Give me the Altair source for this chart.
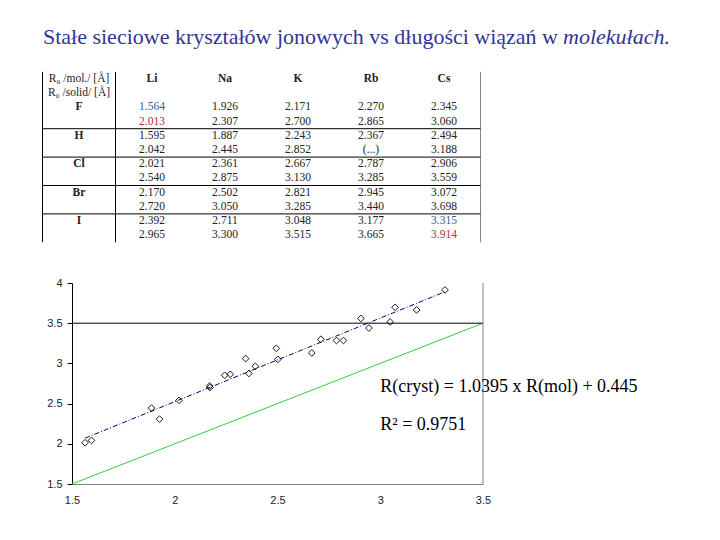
import altair as alt
import pandas as pd

# ---------------- data ----------------
cations = ["Li", "Na", "K", "Rb", "Cs"]
anions = ["F", "H", "Cl", "Br", "I"]

mol_F = [1.564, 1.926, 2.171, 2.270, 2.345]
solid_F = [2.013, 2.307, 2.700, 2.865, 3.060]
mol_H = [1.595, 1.887, 2.243, 2.367, 2.494]
solid_H = [2.042, 2.445, 2.852, None, 3.188]
mol_Cl = [2.021, 2.361, 2.667, 2.787, 2.906]
solid_Cl = [2.540, 2.875, 3.130, 3.285, 3.559]
mol_Br = [2.170, 2.502, 2.821, 2.945, 3.072]
solid_Br = [2.720, 3.050, 3.285, 3.440, 3.698]
mol_I = [2.392, 2.711, 3.048, 3.177, 3.315]
solid_I = [2.965, 3.300, 3.515, 3.665, 3.914]

header_mol = "R₀ /mol./ [Å]"
header_solid = "R₀ /solid/ [Å]"
title_main = "Stałe sieciowe kryształów jonowych vs długości wiązań w"
title_italic = "molekułach."
fit_label = "R(cryst) = 1.0395 x R(mol) + 0.445"
r2_label = "R² = 0.9751"
ann_x = [3.0, 3.0]
ann_y = [2.71, 2.23]

x_ticks = [1.5, 2, 2.5, 3, 3.5]
y_ticks = [1.5, 2, 2.5, 3, 3.5, 4]
ref_line = [1.5, 3.5]

mols = {"F": mol_F, "H": mol_H, "Cl": mol_Cl, "Br": mol_Br, "I": mol_I}
solids = {"F": solid_F, "H": solid_H, "Cl": solid_Cl, "Br": solid_Br, "I": solid_I}
highlight = {("F", "Li"), ("I", "Cs")}

# ---------------- scatter ----------------
pts = []
for an in anions:
    for ci, cat in enumerate(cations):
        if solids[an][ci] is not None:
            pts.append({"mol": mols[an][ci], "solid": solids[an][ci]})
pts_df = pd.DataFrame(pts)

xs = alt.Scale(domain=[1.5, 3.5], nice=False, zero=False)
ys = alt.Scale(domain=[1.5, 4], nice=False, zero=False)
xaxis = alt.Axis(values=x_ticks, format="~g", grid=False, ticks=False,
                 domainColor="#808080", labelFont="Liberation Sans",
                 labelFontSize=11, labelColor="#222222", labelPadding=10,
                 labelFlush=False, title=None)
yaxis = alt.Axis(values=y_ticks, format="~g", grid=False, ticks=True,
                 tickSize=5, tickColor="black", domainColor="black",
                 labelFont="Liberation Sans", labelFontSize=11,
                 labelColor="#222222", labelPadding=5, labelFlush=False,
                 title=None)

green = alt.Chart(pd.DataFrame({"v": ref_line})).mark_line(
    color="#33cc33", strokeWidth=1).encode(
    x=alt.X("v:Q", scale=xs, axis=xaxis), y=alt.Y("v:Q", scale=ys, axis=yaxis))

reg = alt.Chart(pts_df).transform_regression("mol", "solid").mark_line(
    color="#000080", strokeWidth=1, strokeDash=[5, 2, 1, 2]).encode(
    x=alt.X("mol:Q", scale=xs, axis=xaxis), y=alt.Y("solid:Q", scale=ys, axis=yaxis))

points = alt.Chart(pts_df).mark_point(
    shape="diamond", filled=False, color="black", size=45, strokeWidth=0.9,
    opacity=1).encode(
    x=alt.X("mol:Q", scale=xs, axis=xaxis), y=alt.Y("solid:Q", scale=ys, axis=yaxis))

hrule = alt.Chart(pd.DataFrame({"a": [0]})).mark_rule(
    color="black", strokeWidth=1).encode(
    y=alt.Y(datum=3.5, scale=ys, axis=yaxis))

vrule = alt.Chart(pd.DataFrame({"a": [0]})).mark_rule(
    color="#808080", strokeWidth=1).encode(
    x=alt.X(datum=3.5, scale=xs, axis=xaxis))

ann = alt.Chart(pd.DataFrame({"ax": ann_x, "ay": ann_y,
                              "t": [fit_label, r2_label]})).mark_text(
    align="left", baseline="middle", font="Liberation Serif", fontSize=18,
    color="black").encode(
    x=alt.X("ax:Q", scale=xs, axis=xaxis), y=alt.Y("ay:Q", scale=ys, axis=yaxis),
    text="t:N")

scatter = alt.layer(green, reg, points, hrule, vrule, ann)

# ---------------- table ----------------
cells = []
cells.append({"c": -1, "r": 0, "t": header_mol, "col": "#222222", "b": 0})
cells.append({"c": -1, "r": 1, "t": header_solid, "col": "#222222", "b": 0})
for ci, cat in enumerate(cations):
    cells.append({"c": ci, "r": 0, "t": cat, "col": "#222222", "b": 1})
for g, an in enumerate(anions):
    cells.append({"c": -1, "r": 2 + 2 * g, "t": an, "col": "#222222", "b": 1})
    for ci, cat in enumerate(cations):
        m = mols[an][ci]
        s = solids[an][ci]
        hl = (an, cat) in highlight
        cells.append({"c": ci, "r": 2 + 2 * g, "t": f"{m:.3f}",
                      "col": "#3a5a9a" if hl else "#222222", "b": 0})
        cells.append({"c": ci, "r": 3 + 2 * g,
                      "t": f"{s:.3f}" if s is not None else "(...)",
                      "col": "#b03030" if hl else "#222222", "b": 0})
cells_df = pd.DataFrame(cells)

n_rows = 2 + 2 * len(anions)
tx = alt.Scale(domain=[0, len(cations) - 1], range=[80, 372], nice=False, zero=False)
ty = alt.Scale(domain=[0, n_rows - 1], range=[-204, -47.8], nice=False, zero=False)

txt_norm = alt.Chart(cells_df).transform_filter("datum.b == 0").mark_text(
    align="center", baseline="middle", font="Liberation Serif", fontSize=11.5).encode(
    x=alt.X("c:Q", scale=tx, axis=None), y=alt.Y("r:Q", scale=ty, axis=None),
    text="t:N", color=alt.Color("col:N", scale=None))

txt_bold = alt.Chart(cells_df).transform_filter("datum.b == 1").mark_text(
    align="center", baseline="middle", font="Liberation Serif", fontSize=11.5,
    fontWeight="bold").encode(
    x=alt.X("c:Q", scale=tx, axis=None), y=alt.Y("r:Q", scale=ty, axis=None),
    text="t:N", color=alt.Color("col:N", scale=None))

left_edge = -1.5
sep = -0.5
right_edge = len(cations) - 0.5
top_edge = -0.5
bottom_edge = n_rows - 0.5

vl_df = pd.DataFrame({"c": [left_edge, sep, right_edge],
                      "y0": [top_edge] * 3, "y1": [bottom_edge] * 3,
                      "col": ["black", "black", "#888888"]})
vlines = alt.Chart(vl_df).mark_rule(strokeWidth=1).encode(
    x=alt.X("c:Q", scale=tx, axis=None),
    y=alt.Y("y0:Q", scale=ty, axis=None), y2="y1:Q",
    color=alt.Color("col:N", scale=None))

hl_df = pd.DataFrame({"r": [2 * g + 1.5 for g in range(1, len(anions))],
                      "x0": left_edge, "x1": right_edge})
hlines = alt.Chart(hl_df).mark_rule(strokeWidth=1, color="black").encode(
    x=alt.X("x0:Q", scale=tx, axis=None), x2="x1:Q",
    y=alt.Y("r:Q", scale=ty, axis=None))

table = alt.layer(vlines, hlines, txt_norm, txt_bold)

# ---------------- title ----------------
t1 = alt.Chart(pd.DataFrame({"t": [title_main]})).mark_text(
    align="right", baseline="middle", font="Liberation Serif", fontSize=22,
    color="#333399").encode(x=alt.value(486), y=alt.value(-246), text="t:N")
t2 = alt.Chart(pd.DataFrame({"t": [title_italic]})).mark_text(
    align="left", baseline="middle", font="Liberation Serif", fontSize=22,
    fontStyle="italic", color="#333399").encode(
    x=alt.value(491), y=alt.value(-246), text="t:N")
title = alt.layer(t1, t2)

chart = alt.layer(scatter, table, title).resolve_scale(
    x="independent", y="independent").properties(
    width=411, height=201,
    autosize=alt.AutoSizeParams(type="none"),
    padding={"left": 64, "top": 275, "right": 200, "bottom": 40},
).configure_view(stroke=None)

chart.save("out.html", embed_options={"renderer": "svg", "actions": False})
